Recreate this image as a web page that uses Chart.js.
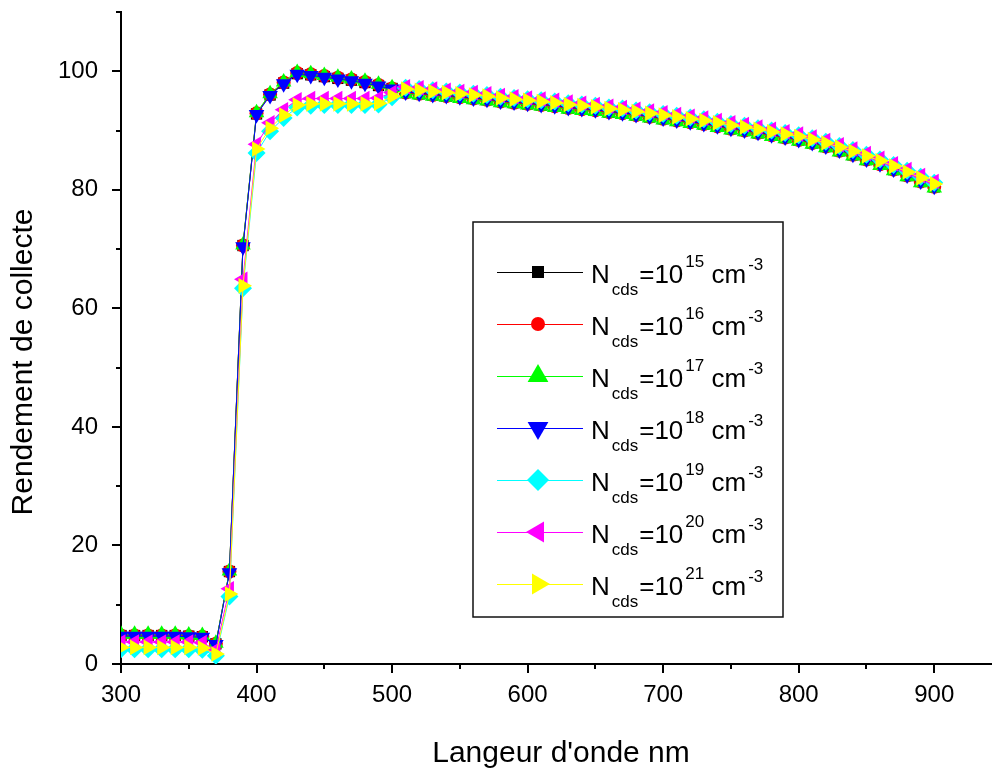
<!DOCTYPE html>
<html>
<head>
<meta charset="utf-8">
<title>Rendement de collecte</title>
<script src="https://cdn.jsdelivr.net/npm/chart.js@4.4.0/dist/chart.umd.min.js"></script>
<style>
  html, body { margin: 0; padding: 0; overflow: hidden; background: #fff; }
  #wrap { width: 1011px; height: 771px; }
</style>
</head>
<body>
<div id="wrap"><canvas id="collecte" width="1011" height="771"></canvas></div>
<script>
const FONT = "'Liberation Sans', Arial, sans-serif";

const wavelengths = [
  300, 310, 320, 330, 340, 350, 360, 370, 380, 390,
  400, 410, 420, 430, 440, 450, 460, 470, 480, 490,
  500, 510, 520, 530, 540, 550, 560, 570, 580, 590,
  600, 610, 620, 630, 640, 650, 660, 670, 680, 690,
  700, 710, 720, 730, 740, 750, 760, 770, 780, 790,
  800, 810, 820, 830, 840, 850, 860, 870, 880, 890,
  900
];

const ncds15 = [
  4.8, 4.8, 4.8, 4.8, 4.8, 4.7, 4.6, 3.4, 15.6, 70.6,
  92.8, 96.0, 98.0, 99.6, 99.4, 99.1, 98.8, 98.5, 98.1, 97.6,
  97.1, 96.4, 96.2, 96.0, 95.8, 95.6, 95.4, 95.2, 94.9, 94.7,
  94.5, 94.3, 94.1, 93.8, 93.6, 93.4, 93.1, 92.9, 92.6, 92.3,
  92.0, 91.7, 91.4, 91.1, 90.7, 90.3, 90.0, 89.6, 89.2, 88.8,
  88.4, 87.9, 87.3, 86.6, 85.9, 85.1, 84.3, 83.4, 82.4, 81.4,
  80.5
];
const ncds16 = [
  4.8, 4.8, 4.8, 4.8, 4.8, 4.7, 4.6, 3.4, 15.6, 70.6,
  92.9, 96.1, 98.1, 99.7, 99.5, 99.2, 98.9, 98.6, 98.2, 97.7,
  97.1, 96.4, 96.2, 96.0, 95.8, 95.6, 95.4, 95.2, 94.9, 94.7,
  94.5, 94.3, 94.1, 93.8, 93.6, 93.4, 93.1, 92.9, 92.6, 92.3,
  92.0, 91.7, 91.4, 91.1, 90.7, 90.3, 90.0, 89.6, 89.2, 88.8,
  88.4, 87.9, 87.3, 86.6, 85.9, 85.1, 84.3, 83.4, 82.4, 81.4,
  80.5
];
const ncds17 = [
  5.0, 5.0, 5.0, 5.0, 5.0, 4.9, 4.8, 3.5, 15.7, 70.7,
  93.0, 96.2, 98.2, 99.8, 99.6, 99.3, 99.0, 98.7, 98.3, 97.8,
  97.2, 96.2, 96.0, 95.8, 95.6, 95.4, 95.2, 95.0, 94.7, 94.5,
  94.3, 94.1, 93.9, 93.6, 93.4, 93.2, 92.9, 92.7, 92.4, 92.1,
  91.8, 91.5, 91.2, 90.9, 90.5, 90.1, 89.8, 89.4, 89.0, 88.6,
  88.2, 87.7, 87.1, 86.4, 85.7, 84.9, 84.1, 83.2, 82.2, 81.2,
  80.3
];
const ncds18 = [
  4.7, 4.7, 4.7, 4.7, 4.7, 4.6, 4.5, 3.3, 15.4, 70.4,
  92.7, 95.9, 97.9, 99.5, 99.3, 99.0, 98.7, 98.4, 98.0, 97.5,
  97.0, 96.5, 96.3, 96.1, 95.9, 95.7, 95.5, 95.3, 95.0, 94.8,
  94.6, 94.4, 94.2, 93.9, 93.7, 93.5, 93.2, 93.0, 92.7, 92.4,
  92.1, 91.8, 91.5, 91.2, 90.8, 90.4, 90.1, 89.7, 89.3, 88.9,
  88.5, 88.0, 87.4, 86.7, 86.0, 85.2, 84.4, 83.5, 82.5, 81.5,
  80.6
];
const ncds19 = [
  2.5, 2.5, 2.5, 2.5, 2.5, 2.5, 2.4, 1.4, 11.4, 63.4,
  86.2, 89.9, 92.1, 93.9, 94.2, 94.3, 94.3, 94.3, 94.3, 94.4,
  95.6, 97.2, 97.0, 96.8, 96.6, 96.4, 96.2, 96.0, 95.7, 95.5,
  95.3, 95.1, 94.9, 94.6, 94.4, 94.2, 93.9, 93.7, 93.4, 93.1,
  92.8, 92.5, 92.2, 91.9, 91.5, 91.1, 90.8, 90.4, 90.0, 89.6,
  89.2, 88.7, 88.1, 87.4, 86.7, 85.9, 85.1, 84.2, 83.2, 82.2,
  81.2
];
const ncds20 = [
  3.7, 3.7, 3.7, 3.7, 3.7, 3.7, 3.6, 2.4, 12.7, 64.9,
  87.7, 91.3, 93.5, 95.2, 95.4, 95.4, 95.4, 95.4, 95.4, 95.5,
  96.4, 97.4, 97.2, 97.0, 96.8, 96.6, 96.4, 96.2, 95.9, 95.7,
  95.5, 95.3, 95.1, 94.8, 94.6, 94.4, 94.1, 93.9, 93.6, 93.3,
  93.0, 92.7, 92.4, 92.1, 91.7, 91.3, 91.0, 90.6, 90.2, 89.8,
  89.4, 88.9, 88.3, 87.6, 86.9, 86.1, 85.3, 84.4, 83.4, 82.4,
  81.4
];
const ncds21 = [
  2.8, 2.8, 2.8, 2.8, 2.8, 2.8, 2.7, 1.7, 11.8, 63.8,
  86.9, 90.4, 92.6, 94.3, 94.5, 94.5, 94.5, 94.5, 94.5, 94.6,
  95.8, 97.0, 96.8, 96.6, 96.4, 96.2, 96.0, 95.8, 95.5, 95.3,
  95.1, 94.9, 94.7, 94.4, 94.2, 94.0, 93.7, 93.5, 93.2, 92.9,
  92.6, 92.3, 92.0, 91.7, 91.3, 90.9, 90.6, 90.2, 89.8, 89.4,
  89.0, 88.5, 87.9, 87.2, 86.5, 85.7, 84.9, 84.0, 83.0, 82.0,
  81.0
];

const seriesValues = [ncds15, ncds16, ncds17, ncds18, ncds19, ncds20, ncds21];
const exponents = ['15', '16', '17', '18', '19', '20', '21'];

// one symbol per doping level
const colors = ['#000000', '#ff0000', '#00ff00', '#0000ff', '#00ffff', '#ff00ff', '#ffff00'];
const shapes = ['rect', 'circle', 'triangle', 'triangle', 'rectRot', 'triangle', 'triangle'];
const rotations = [0, 0, 0, 180, 0, -90, 90];
const plotRadius = [8, 7, 9, 9, 9, 9, 9];
const legendRadius = [8.5, 7, 12, 12, 11, 12, 12];

const xTicks = { min: 300, max: 950, step: 50 };
const yTicks = { min: 0, max: 110, step: 10 };

Chart.defaults.font.family = FONT;
Chart.defaults.color = '#000';

// tick marks: long on labelled values, short in between
const axisTicks = {
  id: 'axisTicks',
  afterDraw(chart) {
    const { ctx, chartArea, scales } = chart;
    ctx.save();
    ctx.strokeStyle = '#000';
    ctx.lineWidth = 2;
    scales.x.ticks.forEach(t => {
      const px = Math.round(scales.x.getPixelForValue(t.value));
      const len = t.value % 100 === 0 ? 9 : 5;
      ctx.beginPath();
      ctx.moveTo(px, chartArea.bottom);
      ctx.lineTo(px, chartArea.bottom + len);
      ctx.stroke();
    });
    scales.y.ticks.forEach(t => {
      const py = Math.round(scales.y.getPixelForValue(t.value));
      const len = t.value % 20 === 0 ? 9 : 5;
      ctx.beginPath();
      ctx.moveTo(chartArea.left, py);
      ctx.lineTo(chartArea.left - len, py);
      ctx.stroke();
    });

    // axis titles
    ctx.fillStyle = '#000';
    ctx.font = '30px ' + FONT;
    ctx.textAlign = 'center';
    ctx.textBaseline = 'middle';
    ctx.fillText("Langeur d'onde nm", 561, 754);
    ctx.translate(24, 362);
    ctx.rotate(-Math.PI / 2);
    ctx.fillText('Rendement de collecte', 0, 0);
    ctx.restore();
  }
};

// boxed legend with N_cds subscripts and exponents
const legendBox = {
  id: 'legendBox',
  afterDraw(chart) {
    const ctx = chart.ctx;
    const box = { left: 473, top: 222, right: 783, bottom: 617 };
    ctx.save();
    ctx.fillStyle = '#fff';
    ctx.fillRect(box.left, box.top, box.right - box.left, box.bottom - box.top);
    ctx.strokeStyle = '#111';
    ctx.lineWidth = 1.5;
    ctx.strokeRect(box.left, box.top, box.right - box.left, box.bottom - box.top);

    chart.data.datasets.forEach((ds, i) => {
      const y = 272 + i * 52;
      ctx.strokeStyle = ds.borderColor;
      ctx.lineWidth = 1;
      ctx.beginPath();
      ctx.moveTo(497, y + 0.5);
      ctx.lineTo(583, y + 0.5);
      ctx.stroke();

      ctx.fillStyle = ds.pointBackgroundColor;
      Chart.helpers.drawPoint(ctx, {
        pointStyle: ds.pointStyle,
        rotation: ds.pointRotation,
        radius: legendRadius[i],
        borderWidth: 0
      }, 538, y);

      ctx.fillStyle = '#000';
      ctx.textAlign = 'left';
      ctx.textBaseline = 'alphabetic';
      let x = 591;
      ctx.font = '26px ' + FONT;
      ctx.fillText('N', x, y + 11);
      x += ctx.measureText('N').width + 2;
      ctx.font = '17px ' + FONT;
      ctx.fillText('cds', x, y + 23);
      x += ctx.measureText('cds').width + 1;
      ctx.font = '26px ' + FONT;
      ctx.fillText('=10', x, y + 11);
      x += ctx.measureText('=10').width + 2;
      ctx.font = '17px ' + FONT;
      ctx.fillText(exponents[i], x, y - 5);
      x += ctx.measureText(exponents[i]).width;
      ctx.font = '26px ' + FONT;
      ctx.fillText(' cm', x, y + 11);
      x += ctx.measureText(' cm').width + 2;
      ctx.font = '17px ' + FONT;
      ctx.fillText('-3', x, y - 2);
    });
    ctx.restore();
  }
};

const datasets = seriesValues.map((values, i) => ({
  label: 'Ncds=10^' + exponents[i] + ' cm-3',
  data: wavelengths.map((w, k) => ({ x: w, y: values[k] })),
  borderColor: colors[i],
  backgroundColor: colors[i],
  borderWidth: 1,
  pointStyle: shapes[i],
  pointRotation: rotations[i],
  pointRadius: plotRadius[i],
  pointHoverRadius: plotRadius[i],
  pointBackgroundColor: colors[i],
  pointBorderWidth: 0,
  tension: 0,
  clip: 0,
  order: 6 - i
}));

new Chart(document.getElementById('collecte'), {
  type: 'line',
  data: { datasets },
  options: {
    responsive: false,
    animation: false,
    devicePixelRatio: 1,
    layout: { padding: { top: 12, right: 0, bottom: 0, left: 0 } },
    plugins: {
      legend: { display: false },
      tooltip: { enabled: false }
    },
    scales: {
      x: {
        type: 'linear',
        min: xTicks.min,
        max: xTicks.max,
        afterFit: scale => {
          scale.height = 107;
          scale.paddingRight = 0;
        },
        border: { display: true, color: '#000', width: 2 },
        grid: { display: true, drawOnChartArea: false, drawTicks: true, tickLength: 9, tickColor: 'rgba(0,0,0,0)' },
        ticks: {
          stepSize: xTicks.step,
          autoSkip: false,
          maxRotation: 0,
          padding: 8,
          font: { size: 24 },
          callback: v => (v % 100 === 0 && v <= 900) ? v : ''
        }
      },
      y: {
        min: yTicks.min,
        max: yTicks.max,
        afterFit: scale => {
          scale.width = 121;
          scale.paddingTop = 0;
          scale.paddingBottom = 0;
        },
        border: { display: true, color: '#000', width: 2 },
        grid: { display: true, drawOnChartArea: false, drawTicks: true, tickLength: 9, tickColor: 'rgba(0,0,0,0)' },
        ticks: {
          stepSize: yTicks.step,
          autoSkip: false,
          padding: 14,
          font: { size: 24 },
          callback: v => (v % 20 === 0 && v <= 100) ? v : ''
        }
      }
    }
  },
  plugins: [axisTicks, legendBox]
});
</script>
</body>
</html>
